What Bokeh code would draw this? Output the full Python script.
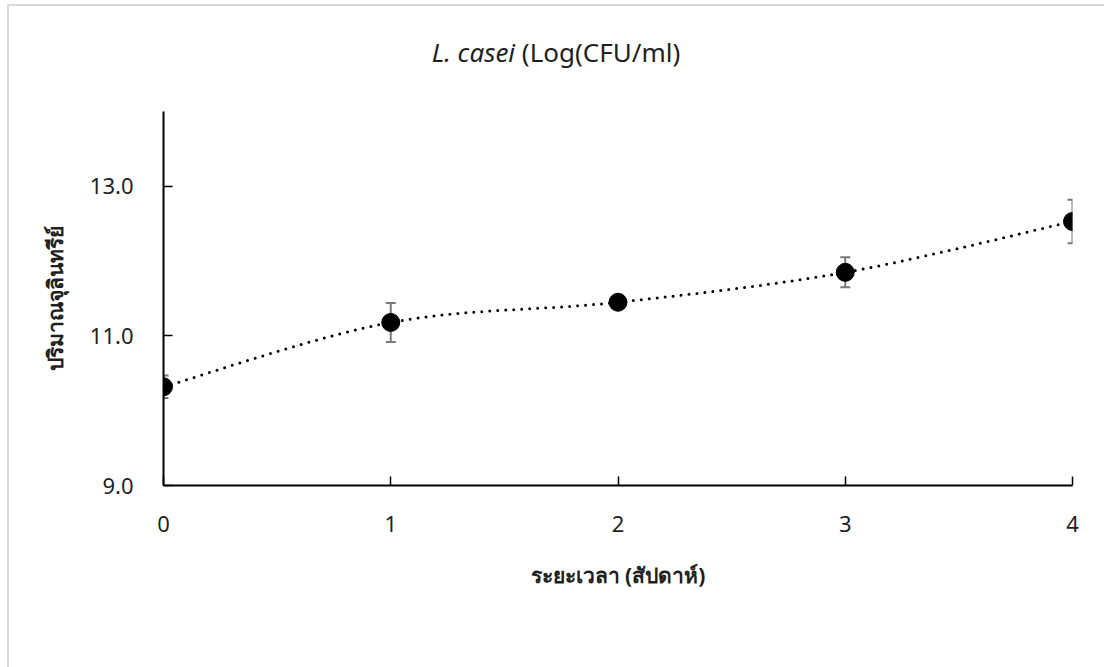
import numpy as np
from bokeh.plotting import figure
from bokeh.layouts import column
from bokeh.models import ColumnDataSource, Whisker, TeeHead, FixedTicker, NumeralTickFormatter, Range1d, Div
from bokeh.embed import file_html
from bokeh.resources import INLINE

weeks = [0, 1, 2, 3, 4]
log_cfu = [10.32, 11.18, 11.45, 11.85, 12.53]
sd = [0.15, 0.26, 0.03, 0.20, 0.29]
y_ticks = [9, 11, 13]
title_italic = "L. casei"
title_rest = "(Log(CFU/ml)"
x_label = "ระยะเวลา (สัปดาห์)"
y_label = "ปริมาณจุลินทรีย์"

FONT = "Noto Sans"
TXT = "#1f1f1f"
TITLE_H = 80

title = Div(
    text=('<div style="position:fixed;left:7px;top:4px;width:1200px;height:800px;'
          'border-left:2px solid #d9d9d9;border-top:2px solid #d9d9d9;'
          'pointer-events:none;z-index:100"></div>'
          f'<div style="width:1112px;margin-top:37px;text-align:center;white-space:nowrap;'
          f'font-family:\'{FONT}\';font-size:26px;line-height:30px;color:{TXT}">'
          f'<i>{title_italic}</i> {title_rest}</div>'),
    width=1104, height=TITLE_H, margin=(0, 0, 0, 0))

p = figure(width=1104, height=667 - TITLE_H, output_backend="svg", toolbar_location=None,
           x_range=Range1d(0, 4), y_range=Range1d(9, 14),
           min_border_left=163, min_border_right=32, min_border_top=111 - TITLE_H,
           min_border_bottom=182, margin=(0, 0, 0, 0))
p.outline_line_color = None
p.grid.visible = False
p.background_fill_color = "white"
p.border_fill_color = "white"

# smoothed (Excel-like) trend line: cubic Bezier segments built from the data
n = len(weeks)
t = np.linspace(0, 1, 40)
sx, sy = [], []
for i in range(n - 1):
    pm = max(i - 1, 0)
    pp = min(i + 2, n - 1)
    P0 = np.array([weeks[i], log_cfu[i]])
    P3 = np.array([weeks[i + 1], log_cfu[i + 1]])
    P1 = P0 + (P3 - np.array([weeks[pm], log_cfu[pm]])) / 6
    P2 = P3 - (np.array([weeks[pp], log_cfu[pp]]) - P0) / 6
    tt = t if i == 0 else t[1:]
    pts = (((1 - tt) ** 3)[:, None] * P0 + (3 * (1 - tt) ** 2 * tt)[:, None] * P1
           + (3 * (1 - tt) * tt ** 2)[:, None] * P2 + (tt ** 3)[:, None] * P3)
    sx.extend(pts[:, 0]); sy.extend(pts[:, 1])
p.line(sx, sy, line_color="black", line_width=3, line_dash="0 8", line_cap="round")

src = ColumnDataSource(dict(x=weeks, y=log_cfu,
                            upper=[v + e for v, e in zip(log_cfu, sd)],
                            lower=[v - e for v, e in zip(log_cfu, sd)]))
w = Whisker(base="x", upper="upper", lower="lower", source=src,
            line_color="#7a7a7a", line_width=2,
            upper_head=TeeHead(size=10, line_color="#7a7a7a", line_width=2),
            lower_head=TeeHead(size=10, line_color="#7a7a7a", line_width=2))
p.add_layout(w)
p.scatter("x", "y", source=src, size=18, color="black")

for ax in (p.xaxis[0], p.yaxis[0]):
    ax.axis_line_color = "black"
    ax.axis_line_width = 2
    ax.major_tick_in = 9
    ax.major_tick_out = 0
    ax.minor_tick_in = 0
    ax.minor_tick_out = 0
    ax.major_tick_line_color = "black"
    ax.major_tick_line_width = 1.5
    ax.major_label_text_font = FONT
    ax.major_label_text_font_size = "22px"
    ax.major_label_text_font_style = "normal"
    ax.major_label_text_color = TXT
    ax.axis_label_text_font = FONT
    ax.axis_label_text_font_size = "21px"
    ax.axis_label_text_font_style = "bold"
    ax.axis_label_text_color = TXT

p.xaxis.ticker = FixedTicker(ticks=weeks)
p.yaxis.ticker = FixedTicker(ticks=y_ticks)
p.yaxis.formatter = NumeralTickFormatter(format="0.0")
p.xaxis.major_label_standoff = 30
p.yaxis.major_label_standoff = 30
p.xaxis.axis_label = x_label
p.yaxis.axis_label = y_label
p.xaxis.axis_label_standoff = 26
p.yaxis.axis_label_standoff = 18

layout = column(title, p, spacing=0, margin=(0, 0, 0, 0))
open("out.html", "w").write(file_html(layout, INLINE))
